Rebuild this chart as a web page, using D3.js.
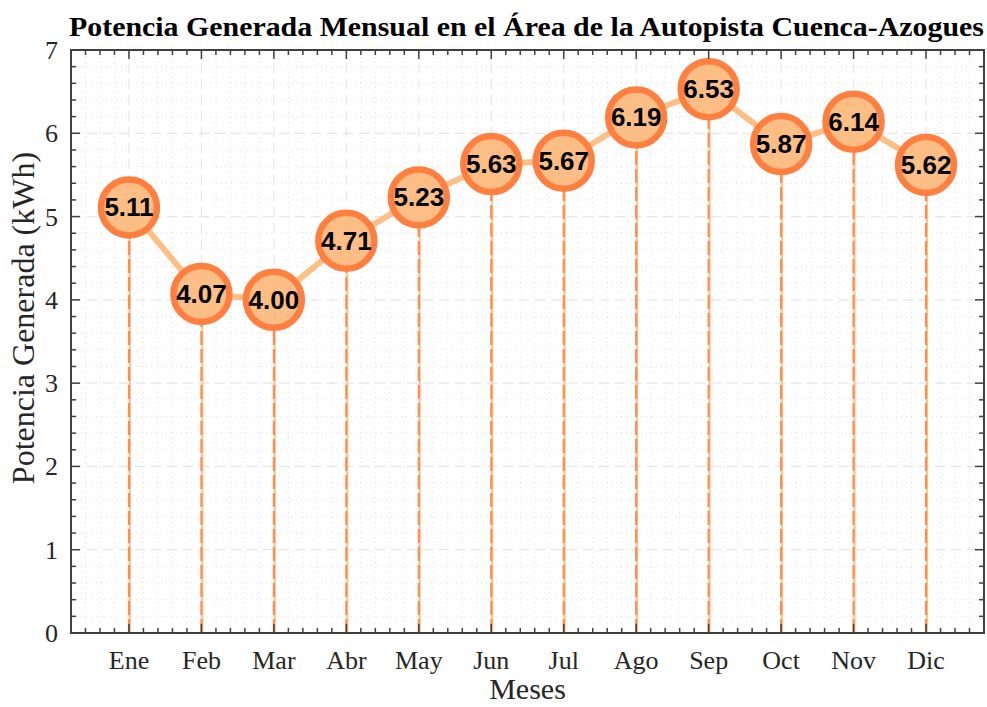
<!DOCTYPE html>
<html>
<head>
<meta charset="utf-8">
<script src="https://cdn.jsdelivr.net/npm/d3@7"></script>
<style>
  body { margin: 0; background: #fff; }
  svg { display: block; }
</style>
</head>
<body>
<script>
// data
var months = ['Ene', 'Feb', 'Mar', 'Abr', 'May', 'Jun', 'Jul', 'Ago', 'Sep', 'Oct', 'Nov', 'Dic']
var potencia = [5.11, 4.07, 4.00, 4.71, 5.23, 5.63, 5.67, 6.19, 6.53, 5.87, 6.14, 5.62]
var yTicks = [0, 1, 2, 3, 4, 5, 6, 7]

var W = 987, H = 707
var m = {left: 71, right: 3, top: 50, bottom: 74}
var iw = W - m.left - m.right, ih = H - m.top - m.bottom

var axisColor = '#404040',
  textColor = '#262626',
  lineColor = '#FDBF85',
  edgeColor = '#FF7F40',
  fillColor = '#FDBE85'

var svg = d3.select('body').append('svg').
  attr('width', W).
  attr('height', H)

var x = d3.scaleLinear().domain([0.2, 12.8]).range([m.left, m.left + iw])
var y = d3.scaleLinear().domain([0, 7]).range([m.top + ih, m.top])

var minorX = d3.range(2, 64).map(function (d) { return d / 5 }).filter(function (d) {
  return Math.abs(d - Math.round(d)) > 1e-6
})
var minorY = d3.range(1, 35).map(function (d) { return d / 5 }).filter(function (d) {
  return Math.abs(d - Math.round(d)) > 1e-6
})
var majorX = d3.range(1, 13)

var g = svg.append('g')

// minor grid (dotted)
g.selectAll('.mgx').data(minorX).enter().append('line').
  attr('x1', function (d) { return x(d) }).attr('x2', function (d) { return x(d) }).
  attr('y1', y(0)).attr('y2', y(7)).
  attr('stroke', '#e0e0e0').attr('stroke-width', 1).attr('stroke-dasharray', '1,4')
g.selectAll('.mgy').data(minorY).enter().append('line').
  attr('x1', x(0.2)).attr('x2', x(12.8)).
  attr('y1', function (d) { return y(d) }).attr('y2', function (d) { return y(d) }).
  attr('stroke', '#e0e0e0').attr('stroke-width', 1).attr('stroke-dasharray', '1,4')

// major grid (dashed)
g.selectAll('.gx').data(majorX).enter().append('line').
  attr('x1', function (d) { return x(d) }).attr('x2', function (d) { return x(d) }).
  attr('y1', y(0)).attr('y2', y(7)).
  attr('stroke', '#e6e6e6').attr('stroke-width', 1.2).attr('stroke-dasharray', '10,6')
g.selectAll('.gy').data(yTicks).enter().append('line').
  attr('x1', x(0.2)).attr('x2', x(12.8)).
  attr('y1', function (d) { return y(d) }).attr('y2', function (d) { return y(d) }).
  attr('stroke', '#e6e6e6').attr('stroke-width', 1.2).attr('stroke-dasharray', '10,6')

// stems
var stems = g.selectAll('.stem').data(potencia).enter().append('g')
stems.append('line').
  attr('x1', function (d, i) { return x(i + 1) + 1 }).attr('x2', function (d, i) { return x(i + 1) + 1 }).
  attr('y1', y(0)).attr('y2', function (d) { return y(d) }).
  attr('stroke', '#FDC58F').attr('stroke-width', 2)
stems.append('line').
  attr('x1', function (d, i) { return x(i + 1) }).attr('x2', function (d, i) { return x(i + 1) }).
  attr('y1', y(0)).attr('y2', function (d) { return y(d) }).
  attr('stroke', '#FF8C4D').attr('stroke-width', 2.2).attr('stroke-dasharray', '14,4')

// connecting line
var line = d3.line().
  x(function (d, i) { return x(i + 1) }).
  y(function (d) { return y(d) })
g.append('path').datum(potencia).
  attr('d', line).
  attr('fill', 'none').
  attr('stroke', lineColor).
  attr('stroke-width', 6)

// markers
var pts = g.selectAll('.pt').data(potencia).enter().append('g').
  attr('transform', function (d, i) { return 'translate(' + x(i + 1) + ',' + y(d) + ')' })
pts.append('circle').
  attr('r', 28).
  attr('fill', fillColor).
  attr('stroke', edgeColor).
  attr('stroke-width', 6.5)
pts.append('text').
  text(function (d) { return d.toFixed(2) }).
  attr('text-anchor', 'middle').
  attr('dy', 9).
  attr('font-family', 'Liberation Sans, Arial, sans-serif').
  attr('font-weight', 'bold').
  attr('font-size', 26).
  attr('fill', '#000')

// box and ticks
var ax = svg.append('g').attr('stroke', axisColor)
ax.append('rect').
  attr('x', x(0.2)).attr('y', y(7)).
  attr('width', iw).attr('height', ih).
  attr('fill', 'none').attr('stroke-width', 2)

function tickSet (vals, len, horiz) {
  vals.forEach(function (v) {
    if (horiz) {
      ax.append('line').attr('x1', x(v)).attr('x2', x(v)).
        attr('y1', y(0)).attr('y2', y(0) - len).attr('stroke-width', 1.5)
      ax.append('line').attr('x1', x(v)).attr('x2', x(v)).
        attr('y1', y(7)).attr('y2', y(7) + len).attr('stroke-width', 1.5)
    } else {
      ax.append('line').attr('x1', x(0.2)).attr('x2', x(0.2) + len).
        attr('y1', y(v)).attr('y2', y(v)).attr('stroke-width', 1.5)
      ax.append('line').attr('x1', x(12.8)).attr('x2', x(12.8) - len).
        attr('y1', y(v)).attr('y2', y(v)).attr('stroke-width', 1.5)
    }
  })
}
tickSet(majorX, 9, true)
tickSet(minorX, 5, true)
tickSet(yTicks, 9, false)
tickSet(minorY, 5, false)

// tick labels
var serif = 'Liberation Serif, Times New Roman, serif'
svg.append('g').selectAll('text').data(months).enter().append('text').
  attr('x', function (d, i) { return x(i + 1) }).
  attr('y', 669).
  attr('text-anchor', 'middle').
  attr('font-family', serif).attr('font-size', 26).
  attr('fill', textColor).
  text(function (d) { return d })

svg.append('g').selectAll('text').data(yTicks).enter().append('text').
  attr('x', 58).
  attr('y', function (d) { return y(d) + 9 }).
  attr('text-anchor', 'end').
  attr('font-family', serif).attr('font-size', 26).
  attr('fill', textColor).
  text(function (d) { return d })

// axis titles
svg.append('text').
  attr('x', x(6.5)).attr('y', 699).
  attr('text-anchor', 'middle').
  attr('font-family', serif).attr('font-size', 30).
  attr('fill', textColor).
  text('Meses')

svg.append('text').
  attr('transform', 'translate(34,318) rotate(-90)').
  attr('text-anchor', 'middle').
  attr('font-family', serif).attr('font-size', 32).
  attr('fill', textColor).
  text('Potencia Generada (kWh)')

svg.append('text').
  attr('x', x(6.5) - 1).attr('y', 36).
  attr('text-anchor', 'middle').
  attr('font-family', serif).attr('font-weight', 'bold').attr('font-size', 27).
  attr('textLength', 915).attr('lengthAdjust', 'spacingAndGlyphs').
  attr('fill', '#000').
  text('Potencia Generada Mensual en el Área de la Autopista Cuenca-Azogues')
</script>
</body>
</html>
